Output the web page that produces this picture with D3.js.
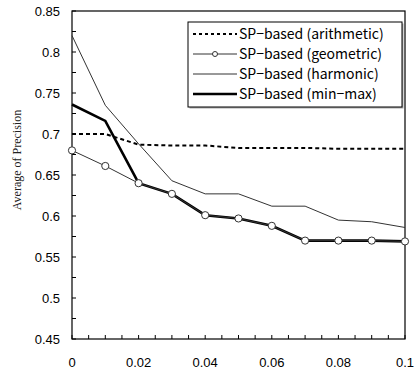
<!DOCTYPE html>
<html>
<head>
<meta charset="utf-8">
<script src="https://cdn.jsdelivr.net/npm/d3@7"></script>
<style>
  html, body { margin: 0; padding: 0; background: #fff; }
  svg { display: block; }
</style>
</head>
<body>
<div id="chart"></div>
<script>
// data
const xValues = [0, 0.01, 0.02, 0.03, 0.04, 0.05, 0.06, 0.07, 0.08, 0.09, 0.1];
const arithmetic = [0.700, 0.700, 0.687, 0.686, 0.686, 0.683, 0.683, 0.683, 0.682, 0.682, 0.682];
const geometric  = [0.680, 0.661, 0.640, 0.627, 0.601, 0.597, 0.588, 0.570, 0.570, 0.570, 0.569];
const harmonic   = [0.820, 0.735, 0.688, 0.643, 0.627, 0.627, 0.612, 0.612, 0.595, 0.593, 0.586];
const minmax     = [0.736, 0.716, 0.640, 0.627, 0.601, 0.597, 0.588, 0.570, 0.570, 0.570, 0.569];
const legendLabels = ['SP\u2212based (arithmetic)', 'SP\u2212based (geometric)', 'SP\u2212based (harmonic)', 'SP\u2212based (min\u2212max)'];
const yTicks = [0.45, 0.5, 0.55, 0.6, 0.65, 0.7, 0.75, 0.8, 0.85];
const xTicks = [0, 0.02, 0.04, 0.06, 0.08, 0.1];

const width = 414, height = 372;
const plotLeft = 72, plotRight = 405, plotTop = 11, plotBottom = 339;

const svg = d3.select('#chart').append('svg')
    .attr('width', width)
    .attr('height', height);

const x = d3.scaleLinear().domain([0, 0.1]).range([plotLeft, plotRight]);
const y = d3.scaleLinear().domain([0.45, 0.85]).range([plotBottom, plotTop]);

const tickFont = '"Liberation Sans", Arial, sans-serif';

// minor ticks (inward)
const g = svg.append('g');
d3.range(0, 0.1001, 0.005).forEach(v => {
    g.append('line')
        .attr('x1', x(v)).attr('x2', x(v))
        .attr('y1', plotBottom).attr('y2', plotBottom - 4)
        .attr('stroke', '#000').attr('stroke-width', 1);
});
d3.range(0.45, 0.8501, 0.025).forEach(v => {
    g.append('line')
        .attr('x1', plotLeft).attr('x2', plotLeft + 4)
        .attr('y1', y(v)).attr('y2', y(v))
        .attr('stroke', '#000').attr('stroke-width', 1);
});

// frame
svg.append('rect')
    .attr('x', plotLeft).attr('y', plotTop)
    .attr('width', plotRight - plotLeft).attr('height', plotBottom - plotTop)
    .attr('fill', 'none').attr('stroke', '#000').attr('stroke-width', 1.2);

// tick labels
svg.append('g').selectAll('text').data(yTicks).enter().append('text')
    .attr('x', 60).attr('y', d => y(d)).attr('dy', '0.36em')
    .attr('text-anchor', 'end')
    .style('font', '13px ' + tickFont)
    .text(d => String(+d.toFixed(2)));

svg.append('g').selectAll('text').data(xTicks).enter().append('text')
    .attr('x', d => x(d)).attr('y', 362).attr('dy', '0.36em')
    .attr('text-anchor', 'middle')
    .style('font', '13px ' + tickFont)
    .text(d => String(+d.toFixed(2)));

// axis title
svg.append('text')
    .attr('transform', 'translate(17,160) rotate(-90)')
    .attr('text-anchor', 'middle')
    .attr('dy', '0.35em')
    .style('font', '12px "Liberation Serif", "Times New Roman", serif')
    .style('fill', '#222')
    .text('Average of Precision');

const line = d3.line().x((d, i) => x(xValues[i])).y(d => y(d));

// series
svg.append('path').datum(harmonic)
    .attr('d', line).attr('fill', 'none')
    .attr('stroke', '#333').attr('stroke-width', 1);

svg.append('path').datum(arithmetic)
    .attr('d', line).attr('fill', 'none')
    .attr('stroke', '#000').attr('stroke-width', 2)
    .attr('stroke-dasharray', '4,3');

svg.append('path').datum(minmax)
    .attr('d', line).attr('fill', 'none')
    .attr('stroke', '#000').attr('stroke-width', 2.6);

svg.append('path').datum(geometric)
    .attr('d', line).attr('fill', 'none')
    .attr('stroke', '#333').attr('stroke-width', 1);

svg.append('g').selectAll('circle').data(geometric).enter().append('circle')
    .attr('cx', (d, i) => x(xValues[i])).attr('cy', d => y(d))
    .attr('r', 3.6)
    .attr('fill', '#fff').attr('stroke', '#333').attr('stroke-width', 1);

// legend
const lx = 188, ly = 22, lw = 214, lh = 85;
svg.append('rect')
    .attr('x', lx + 1.5).attr('y', ly + 1.5).attr('width', lw).attr('height', lh)
    .attr('fill', '#aaa');
svg.append('rect')
    .attr('x', lx).attr('y', ly).attr('width', lw).attr('height', lh)
    .attr('fill', '#fff').attr('stroke', '#000').attr('stroke-width', 1);

const legendStyles = [
    { w: 2, dash: '3,3', color: '#000', marker: false },
    { w: 1, dash: null, color: '#333', marker: true },
    { w: 1, dash: null, color: '#333', marker: false },
    { w: 2.6, dash: null, color: '#000', marker: false }
];

const rows = svg.append('g').selectAll('g').data(legendLabels).enter().append('g')
    .attr('transform', (d, i) => `translate(0,${34 + i * 20})`);

rows.append('line')
    .attr('x1', 193).attr('x2', 237).attr('y1', 0).attr('y2', 0)
    .attr('stroke', (d, i) => legendStyles[i].color)
    .attr('stroke-width', (d, i) => legendStyles[i].w)
    .attr('stroke-dasharray', (d, i) => legendStyles[i].dash);

rows.filter((d, i) => legendStyles[i].marker).append('circle')
    .attr('cx', 215).attr('cy', 0).attr('r', 2.5)
    .attr('fill', '#fff').attr('stroke', '#333');

rows.append('text')
    .attr('x', 239).attr('y', 0).attr('dy', '0.36em')
    .style('font', '14px "Noto Sans CJK JP", "Noto Sans", sans-serif')
    .text(d => d);
</script>
</body>
</html>
